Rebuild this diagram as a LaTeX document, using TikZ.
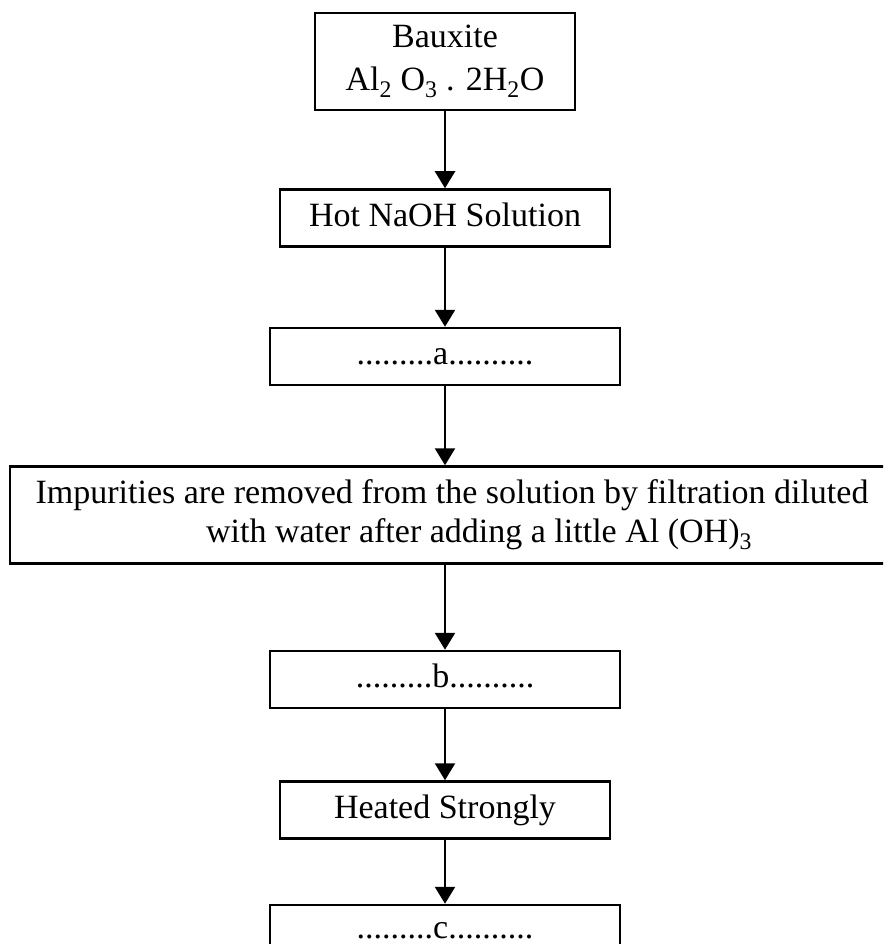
\documentclass[tikz,border=0pt]{standalone}
\usepackage{fontspec}
\setmainfont{Liberation Serif}
\usetikzlibrary{arrows.meta, positioning}

\begin{document}
\begin{tikzpicture}[x=1pt, y=1pt, >={Triangle[length=17pt, width=20pt]},
    stepbox/.style={draw, rectangle, line width=2.5pt, inner sep=0pt, minimum height=57pt,
        align=center, font=\fontsize{34}{39}\selectfont},
    oneline/.style={stepbox, text height=22pt, text depth=6pt},
    flow/.style={->, line width=2.5pt}]
            
            \useasboundingbox (0,0) rectangle (883,-944);
            \clip (0,0) rectangle (883,-944);
            
            \node[stepbox, minimum width=260pt, minimum height=97pt] (bauxite) at (445,-61.5)
                {Bauxite\\[4pt]Al\textsubscript{2} O\textsubscript{3} . 2H\textsubscript{2}O};
            \node[oneline, minimum width=330pt, below=77pt of bauxite] (naoh) {Hot NaOH Solution};
            \node[oneline, minimum width=350pt, below=79pt of naoh] (stepa) {.........a..........};
            \node[stepbox, minimum width=884pt, minimum height=97pt, below=79pt of stepa, xshift=7pt] (impure)
                {Impurities are removed from the solution by filtration diluted\\
                 \hspace*{54pt}with water after adding a little Al (OH)\textsubscript{3}};
            \node[oneline, minimum width=350pt, below=85pt of impure.south -| stepa.south, anchor=north] (stepb) {.........b..........};
            \node[oneline, minimum width=330pt, below=71pt of stepb] (heated) {Heated Strongly};
            \node[oneline, minimum width=350pt, minimum height=51pt, text height=20pt, text depth=4pt,
                below=64pt of heated] (stepc) {.........c..........};
            
            \draw[flow] (bauxite) -- (naoh);
            \draw[flow] (naoh) -- (stepa);
            \draw[flow] (stepa.south) -- (stepa.south |- impure.north);
            \draw[flow] (impure.south -| stepb.north) -- (stepb.north);
            \draw[flow] (stepb) -- (heated);
            \draw[flow] (heated) -- (stepc);
        \end{tikzpicture}
\end{document}
